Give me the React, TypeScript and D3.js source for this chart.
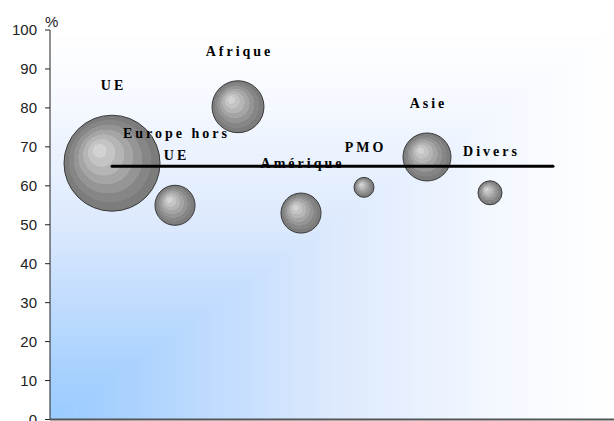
import React from "react";
import * as d3 from "d3";

const categories = ["UE", "Europe hors UE", "Afrique", "Amérique", "PMO", "Asie", "Divers"];
const xValues = [1, 2, 3, 4, 5, 6, 7];
const yValues = [65.8, 55.0, 80.3, 53.0, 59.6, 67.4, 58.2];
const sizeValues = [100, 17.4, 29.3, 17.4, 4.3, 25, 6.25];
const labelLines = [["UE"], ["Europe hors", "UE"], ["Afrique"], ["Amérique"], ["PMO"], ["Asie"], ["Divers"]];
const averageLine = { x0: 1, x1: 8, y: 65 };
const yTicks = [0, 10, 20, 30, 40, 50, 60, 70, 80, 90, 100];

const W = 614;
const H = 421;
const left = 50;
const top = 30;
const bottom = 419.5;
const right = 614;

export default function App() {
  const x = d3.scaleLinear().domain([0, 9]).range([left - 1, left - 1 + 9 * 63]);
  const y = d3.scaleLinear().domain([0, 100]).range([bottom, top]);
  const r = d3.scaleSqrt().domain([0, 100]).range([0, 48]);

  const bgColor = d3
    .scaleLinear<string>()
    .domain([0, 0.1, 0.3, 0.5, 0.8, 1])
    .range(["#99ccff", "#a4cffe", "#c0dcfe", "#dce9fd", "#f4f8ff", "#ffffff"]);
  const steps = d3.range(120, 0, -1).map((i) => i / 120);
  const pw = right - left;
  const ph = bottom - top;

  const bandColors = ["#d2d2d2", "#c4c4c4", "#b5b5b5", "#a5a5a5", "#959595", "#868686", "#7c7c7c"];

  return (
    <svg width={W} height={H} style={{ position: "absolute", left: 0, top: 0 }}>
      <defs>
        <radialGradient id="bub" cx="0.5" cy="0.5" r="0.5" fx="0.35" fy="0.35">
          {bandColors.map((c, i) => (
            <React.Fragment key={i}>
              <stop offset={i / bandColors.length} stopColor={c} />
              <stop offset={(i + 1) / bandColors.length} stopColor={c} />
            </React.Fragment>
          ))}
        </radialGradient>
      </defs>
      <rect x={0} y={0} width={W} height={H} fill="#ffffff" />
      {steps.map((t, i) => (
        <rect
          key={i}
          x={left}
          y={bottom - ph * t}
          width={pw * t}
          height={ph * t}
          fill={bgColor(t)}
        />
      ))}
      {/* y axis */}
      <line x1={left} x2={left} y1={top} y2={bottom} stroke="#222" strokeWidth={1} />
      {yTicks.map((t) => (
        <g key={t}>
          <line x1={left - 5} x2={left} y1={y(t)} y2={y(t)} stroke="#222" strokeWidth={1} />
          <text
            x={37}
            y={y(t)}
            dy="0.36em"
            textAnchor="end"
            fontFamily="Liberation Sans, Arial, sans-serif"
            fontSize={15}
            fill="#222"
          >
            {t}
          </text>
        </g>
      ))}
      <text x={45} y={27} fontFamily="Liberation Sans, Arial, sans-serif" fontSize={15} fill="#222">
        %
      </text>
      {/* x axis */}
      <line x1={left} x2={right} y1={bottom} y2={bottom} stroke="#555" strokeWidth={2} />
      {/* bubbles */}
      {categories.map((c, i) => (
        <circle
          key={c}
          cx={x(xValues[i])}
          cy={y(yValues[i])}
          r={r(sizeValues[i])}
          fill="url(#bub)"
          stroke="#3a3a3a"
          strokeWidth={1}
        />
      ))}
      {/* average line */}
      <line
        x1={x(averageLine.x0)}
        x2={x(averageLine.x1)}
        y1={y(averageLine.y)}
        y2={y(averageLine.y)}
        stroke="#000"
        strokeWidth={3}
        strokeLinecap="round"
      />
      {/* labels */}
      {categories.map((c, i) => {
        const cx = x(xValues[i]);
        const base = y(yValues[i]) - r(sizeValues[i]) - 25;
        const lines = labelLines[i];
        return (
          <text
            key={c}
            textAnchor="middle"
            fontFamily="Liberation Serif, Times New Roman, serif"
            fontWeight="bold"
            fontSize={14}
            letterSpacing={3}
            fill="#000"
          >
            {lines.map((ln, j) => (
              <tspan key={j} x={cx + 1.5} y={base - (lines.length - 1 - j) * 22}>
                {ln}
              </tspan>
            ))}
          </text>
        );
      })}
    </svg>
  );
}
